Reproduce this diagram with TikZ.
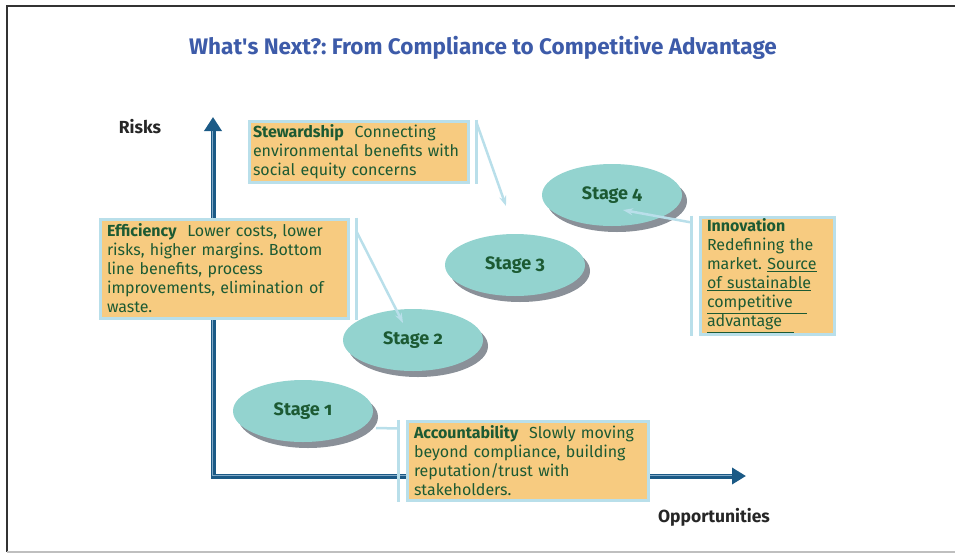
\documentclass[tikz,border=0pt]{standalone}
\usepackage{fontspec}
\setmainfont{Fira Sans}[Numbers=OldStyle]
\usetikzlibrary{arrows.meta,shapes.geometric,shadows,calc,positioning}
\usepackage{xcolor}
\definecolor{titleblue}{HTML}{3D5BA9}
\definecolor{axisblue}{HTML}{1B5A86}
\definecolor{axislight}{HTML}{7FA8C6}
\definecolor{boxorange}{HTML}{F7CB80}
\definecolor{boxedge}{HTML}{B9DFEA}
\definecolor{stageteal}{HTML}{93D3CF}
\definecolor{stageshadow}{HTML}{8A9098}
\definecolor{textgreen}{HTML}{1C5A33}
\newcommand{\barsep}{7pt}
\frenchspacing
\tikzset{
    boxsty/.style={draw=boxedge, line width=3pt, fill=boxorange, anchor=north west, align=left,
      text=textgreen, font=\fontsize{16}{19}\selectfont, inner xsep=7pt, inner ysep=2pt},
    barsty/.style={draw=boxedge, line width=3pt},
    callsty/.style={draw=boxedge, line width=2.5pt, -{Stealth[length=10pt,width=7pt]}},
    stagesty/.style={ellipse, fill=stageteal, minimum width=140pt, minimum height=62pt,
      text=textgreen, font=\fontsize{18}{21}\selectfont\bfseries,
      drop shadow={shadow xshift=5pt, shadow yshift=-6pt, fill=stageshadow, opacity=1}},
    axissty/.style={draw=axisblue, line width=5pt,
      {Triangle[length=14pt,width=17pt]}-{Triangle[length=14pt,width=16pt]}},
    axlsty/.style={draw=axislight, line width=1pt},
    labelsty/.style={font=\fontsize{17.5}{20}\selectfont\bfseries, text=black!85},
}

\begin{document}
\begin{tikzpicture}[x=1pt,y=-1pt,>=latex]
\useasboundingbox (0,0) rectangle (955,554);

% frame
\draw[black!80, line width=2pt] (955,6) -- (7,6) -- (7,552);
\draw[gray!50, line width=1.5pt] (7,552) -- (955,552);

\node (title) at (483,48) [font=\fontsize{22.5}{26}\selectfont\bfseries, text=titleblue]
  {What\textquotesingle s Next?: From Compliance to Competitive Advantage};

% axes
\coordinate (origin) at (213,476);
\coordinate (ytip) at (213,117);
\coordinate (xtip) at (746,476);
\draw[axissty] (ytip) -- (origin) -- (xtip);
\draw[axlsty] ([yshift=-14pt]ytip -| 212,0) -- ([xshift=-1pt,yshift=1pt]origin) -- ([xshift=-14pt,yshift=1pt]xtip);
\node[labelsty] (risks) at (140,127) {Risks};
\node[labelsty] (opps) at (714,517) {Opportunities};

% stages
\node[stagesty] (s1) at (303,411) {Stage 1};
\node[stagesty] (s2) at (413,340) {Stage 2};
\node[stagesty] (s3) at (515,265) {Stage 3};
\node[stagesty] (s4) at (612,195) {Stage 4};

% text boxes
\node[boxsty, text width=211pt, inner xsep=4pt, minimum height=61pt] (stew) at (247.5,119.5)
  {\textbf{Stewardship}~ Connecting\\environmental benefits with\\social equity concerns};
\node[boxsty, text width=234pt, minimum height=99pt] (eff) at (98.5,217.5)
  {\textbf{Efficiency}~ Lower costs, lower\\risks, higher margins. Bottom\\line benefits, process\\improvements, elimination of\\waste.};
\node[boxsty, text width=120pt, minimum height=115pt] (innov) at (698.5,215.5)
  {\textbf{Innovation}\\Redefining the\\market. \underline{Source}\\\underline{of sustainable}\\\underline{competitive\hspace{14pt}}\\\underline{advantage\hspace{12pt}}};
\node[boxsty, text width=227pt, minimum height=79pt] (acc) at (405.5,419.5)
  {\textbf{Accountability}~ Slowly moving\\beyond compliance, building\\reputation/trust with\\stakeholders.};

% callout bars
\draw[barsty] ([xshift=\barsep]stew.north east) -- ([xshift=\barsep]stew.south east);
\draw[barsty] ([xshift=\barsep]eff.north east) -- ([xshift=\barsep]eff.south east);
\draw[barsty] ([xshift=-\barsep]innov.north west) -- ([xshift=-\barsep]innov.south west);
\draw[barsty] ([xshift=-\barsep]acc.north west) -- ([xshift=-\barsep]acc.south west);

% callouts
\coordinate (stewtip) at (506,206);
\coordinate (efftip) at (403,323);
\coordinate (innovtip) at (623,210);
\coordinate (accend) at (376,428);
\draw[callsty] ([xshift=\barsep,yshift=-3pt]stew.north east) -- (stewtip);
\draw[callsty] ([xshift=\barsep,yshift=-14pt]eff.north east) -- (efftip);
\draw[callsty] ([xshift=-\barsep,yshift=-7pt]innov.north west) -- (innovtip);
\draw[barsty, line width=2.5pt] ([xshift=-\barsep,yshift=-9pt]acc.north west) -- (accend);

\end{tikzpicture}
\end{document}
